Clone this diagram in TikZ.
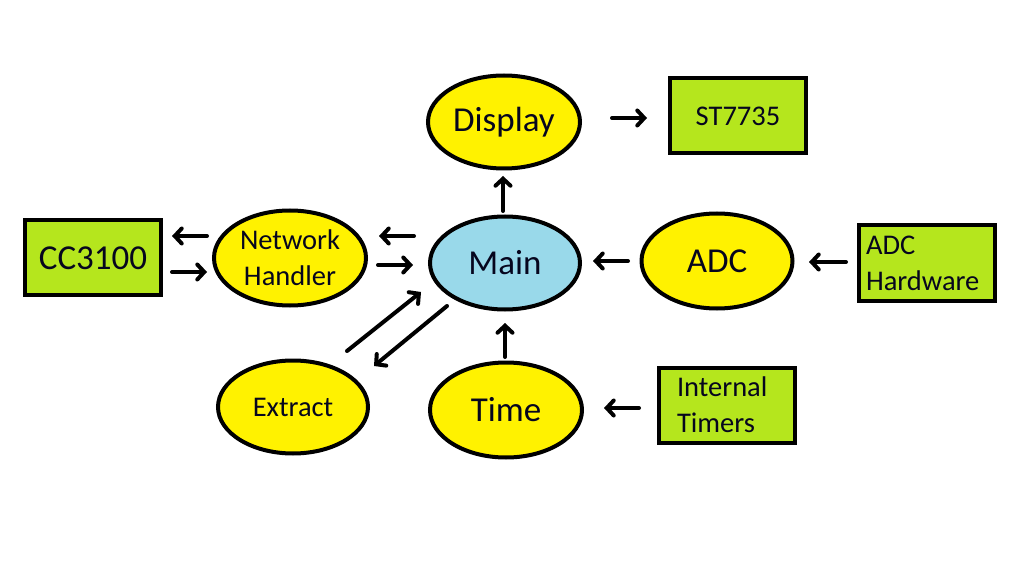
\documentclass[tikz,border=0pt]{standalone}
\usepackage{fontspec}
\setmainfont{Carlito}
\usetikzlibrary{arrows.meta,shapes.geometric}
\definecolor{pyellow}{HTML}{FFF200}
\definecolor{pgreen}{HTML}{B5E61D}
\definecolor{pblue}{HTML}{99D9EA}
\definecolor{txt}{HTML}{06061E}
\tikzset{
  ell/.style={ellipse, draw=black, line width=4pt, fill=pyellow, inner sep=0pt,
    minimum width=#1, text=txt, align=center},
  ell/.default={150pt},
  hw/.style={rectangle, draw=black, line width=4pt, fill=pgreen, inner sep=0pt,
    minimum width=136pt, minimum height=75pt, text=txt},
  arr/.style={line width=4pt, line cap=round,
    -{Straight Barb[length=7pt,width=15pt,line width=4pt,line cap=round]}},
  big/.style={font=\fontsize{35}{38}\selectfont},
  small/.style={font=\fontsize{28.5}{36}\selectfont},
}
\begin{document}
\begin{tikzpicture}[x=1pt,y=-1pt]
\useasboundingbox (0,0) rectangle (1017,577);
% nodes
\node[ell=150pt, minimum height=93pt, fill=pblue, big] (main) at (505,263) {Main};
\node[ell=152pt, minimum height=93pt, big] (display) at (504,122) {\raisebox{-3pt}{Display}};
\node[ell=152pt, minimum height=95pt, small] (nh) at (290,258) {Network\\Handler};
\node[ell=151pt, minimum height=95pt, big] (adc) at (717,261) {ADC};
\node[ell=150pt, minimum height=93pt, small] (extract) at (293,407) {Extract};
\node[ell=152pt, minimum height=95pt, big] (time) at (506,410) {\raisebox{-3pt}{Time}};
\node[hw, minimum width=136pt, minimum height=75pt, big] (cc) at (93,258) {CC3100};
\node[hw, minimum width=136pt, minimum height=75pt, small] (st) at (738,116) {ST7735};
\node[hw, minimum width=136pt, minimum height=76pt, small, align=left, text width=122pt] (adchw) at (927,263) {ADC\\Hardware};
\node[hw, minimum width=136pt, minimum height=75pt, small, align=left, text width=100pt] (timers) at (727,405) {Internal\\Timers};
% arrow end points
\coordinate (a1s) at (207,236); \coordinate (a1e) at (172,236);
\coordinate (a2s) at (172,272); \coordinate (a2e) at (207,272);
\coordinate (a3s) at (414,236); \coordinate (a3e) at (379,236);
\coordinate (a4s) at (378,265); \coordinate (a4e) at (413,265);
\coordinate (a5s) at (347,351); \coordinate (a5e) at (421,292);
\coordinate (a6s) at (447,306); \coordinate (a6e) at (374,366);
\coordinate (a7s) at (505,357); \coordinate (a7e) at (505,323);
\coordinate (a8s) at (503,211); \coordinate (a8e) at (503,176);
\coordinate (a9s) at (612,118); \coordinate (a9e) at (647,118);
\coordinate (a10s) at (628,261); \coordinate (a10e) at (593,261);
\coordinate (a11s) at (846,262); \coordinate (a11e) at (809,262);
\coordinate (a12s) at (639,408); \coordinate (a12e) at (604,408);
% connectors
\draw[arr] (a1s) -- (a1e);   % Network Handler -> CC3100
\draw[arr] (a2s) -- (a2e);   % CC3100 -> Network Handler
\draw[arr] (a3s) -- (a3e);   % Main -> Network Handler
\draw[arr] (a4s) -- (a4e);   % Network Handler -> Main
\draw[arr] (a5s) -- (a5e);   % Extract -> Main
\draw[arr] (a6s) -- (a6e);   % Main -> Extract
\draw[arr] (a7s) -- (a7e);   % Time -> Main
\draw[arr] (a8s) -- (a8e);   % Main -> Display
\draw[arr] (a9s) -- (a9e);   % Display -> ST7735
\draw[arr] (a10s) -- (a10e); % ADC -> Main
\draw[arr] (a11s) -- (a11e); % ADC Hardware -> ADC
\draw[arr] (a12s) -- (a12e); % Internal Timers -> Time
\end{tikzpicture}
\end{document}
